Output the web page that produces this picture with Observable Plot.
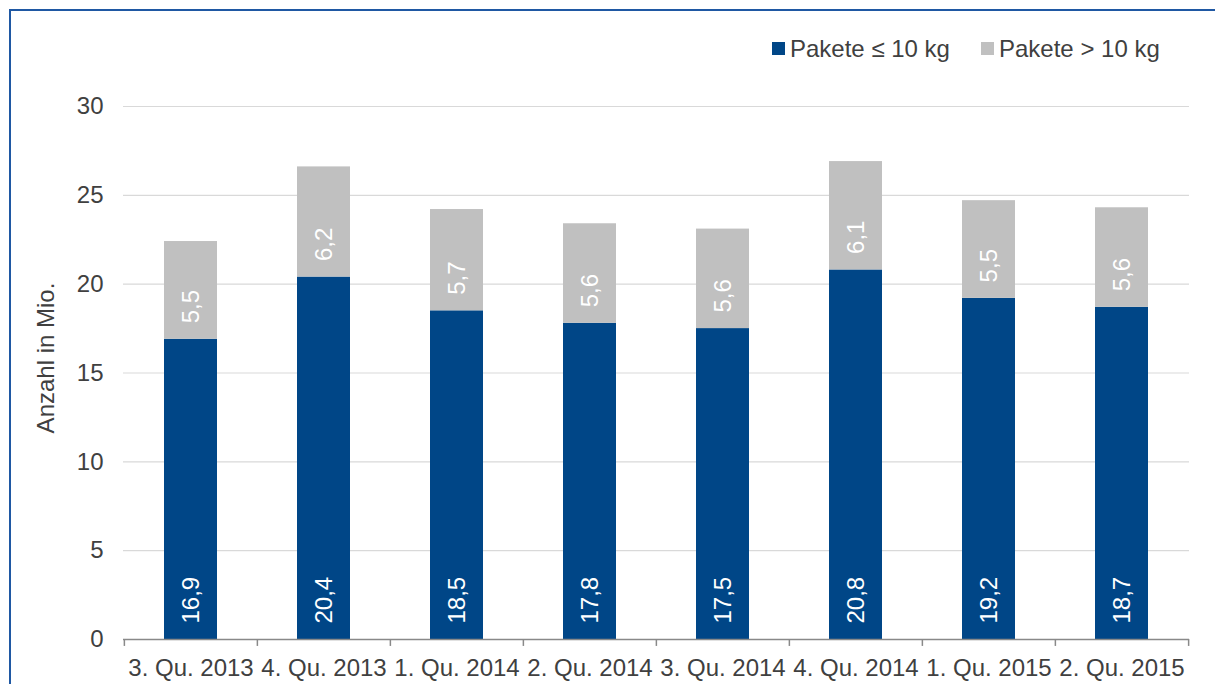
<!DOCTYPE html>
<html><head><meta charset="utf-8">
<script src="https://cdn.jsdelivr.net/npm/d3@7"></script>
<script src="https://cdn.jsdelivr.net/npm/@observablehq/plot@0.6"></script>
<style>
body{margin:0;background:#fff;font-family:"Liberation Sans",Arial,sans-serif;}
#wrap{position:relative;width:1215px;height:684px;overflow:hidden;}
#frame{position:absolute;left:9px;top:9px;width:1400px;height:900px;border-left:2px solid #1f58a3;border-top:2px solid #1f58a3;pointer-events:none;}
#legend{position:relative;height:66px;}
.item{position:absolute;top:35px;display:flex;align-items:center;font-size:24px;line-height:27px;color:#404040;white-space:nowrap;}
.sw{width:13px;height:13px;margin-right:5px;}
</style>
</head><body>
<div id="wrap">
  <div id="legend"></div>
  <div id="chart"></div>
  <div id="frame"></div>
</div>
<script>
const categories = ["3. Qu. 2013","4. Qu. 2013","1. Qu. 2014","2. Qu. 2014","3. Qu. 2014","4. Qu. 2014","1. Qu. 2015","2. Qu. 2015"];
const seriesNames = ["Pakete ≤ 10 kg","Pakete > 10 kg"];
const smallParcels = [16.9,20.4,18.5,17.8,17.5,20.8,19.2,18.7];
const largeParcels = [5.5,6.2,5.7,5.6,5.6,6.1,5.5,5.6];
const yTicks = [0,5,10,15,20,25,30];
const colors = ["#004687","#c0c0c0"];
const yLabel = "Anzahl in Mio.";

const rows = [];
categories.forEach((c,i)=>{
  rows.push({cat:c, series:seriesNames[0], value:smallParcels[i], base:0});
  rows.push({cat:c, series:seriesNames[1], value:largeParcels[i], base:smallParcels[i]});
});

// legend
const leg = document.getElementById("legend");
const legendLeft = [772, 981];
seriesNames.forEach((s,i)=>{
  const it = document.createElement("div");
  it.className = "item";
  it.style.left = legendLeft[i] + "px";
  const sw = document.createElement("span");
  sw.className = "sw"; sw.style.background = colors[i];
  const t = document.createElement("span"); t.textContent = s;
  it.append(sw, t);
  leg.append(it);
});

const W = 1215, mL = 123, mR = 26;
const step = (W - mL - mR) / categories.length;

const chart = Plot.plot({
  width: W, height: 618,
  marginLeft: mL, marginRight: mR, marginTop: 40, marginBottom: 45,
  style: {fontFamily: '"Liberation Sans", Arial, sans-serif', fontSize: "24px", color: "#404040", background: "transparent"},
  x: {type: "band", domain: categories, paddingInner: 0.6, paddingOuter: 0.3},
  y: {domain: [0, 30]},
  color: {domain: seriesNames, range: colors},
  marks: [
    Plot.ruleY(yTicks.filter(t => t > 0), {stroke: "#d9d9d9", strokeWidth: 1.2}),
    Plot.barY(rows, {x: "cat", y: "value", fill: "series", order: seriesNames}),
    Plot.text(rows, {x: "cat", y: "base", text: d => d.value.toFixed(1).replace(".", ","), rotate: -90, textAnchor: "start", dy: -16, fill: "white", fontSize: 24}),
    Plot.ruleY([0], {stroke: "#898989", strokeWidth: 1.5}),
    Plot.ruleX(categories, {x: d => d, dx: -step/2, y1: 0, y2: -0.39, stroke: "#898989", strokeWidth: 1.5}),
    Plot.ruleX(categories.slice(-1), {x: d => d, dx: step/2, y1: 0, y2: -0.39, stroke: "#898989", strokeWidth: 1.5}),
    Plot.axisY({ticks: yTicks, tickSize: 0, tickPadding: 20, label: null, tickFormat: d => String(d)}),
    Plot.axisX({tickSize: 0, tickPadding: 19, label: null}),
    Plot.text([yLabel], {frameAnchor: "left", textAnchor: "middle", rotate: -90, dx: -77, dy: -15, fontSize: 24, fill: "#404040"})
  ]
});
document.getElementById("chart").append(chart);
</script>
</body></html>
